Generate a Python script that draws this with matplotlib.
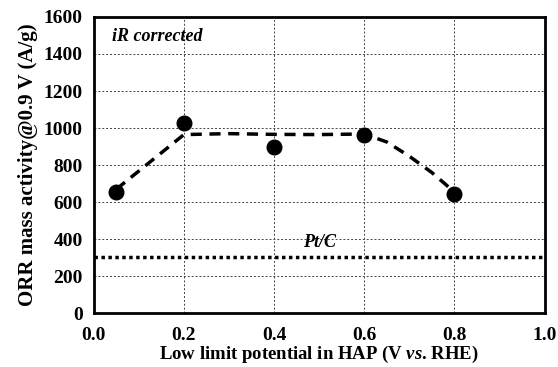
import matplotlib
matplotlib.use("Agg")
import matplotlib.pyplot as plt

# measured data
potential = [0.05, 0.2, 0.4, 0.6, 0.8]
activity = [655, 1025, 897, 965, 645]

# guide curve
fit_x = [0.05, 0.2, 0.3, 0.4, 0.5, 0.6, 0.65, 0.7, 0.75, 0.8]
fit_y = [670, 965, 970, 966, 965, 968, 925, 848, 760, 655]

ptc_level = 305

plt.rcParams['font.family'] = ['Liberation Serif', 'DejaVu Serif']
plt.rcParams['font.weight'] = 'bold'
plt.rcParams['mathtext.fontset'] = 'custom'
plt.rcParams['mathtext.it'] = 'Liberation Serif:italic:bold'
plt.rcParams['mathtext.rm'] = 'Liberation Serif:bold'


def main():
    fig = plt.figure(figsize=(5.58, 3.67), dpi=100)
    ax = fig.add_axes([0.168, 0.146, 0.808, 0.808])

    ax.grid(True, linestyle=(0, (2, 2)), color='#444444', linewidth=0.7)
    ax.set_axisbelow(True)

    ax.plot(fit_x, fit_y, color='black', linestyle=(0, (3.2, 2.2)), linewidth=2.5, zorder=3)
    ax.plot(potential, activity, 'o', color='black', markersize=10.5, zorder=4)
    ax.axhline(ptc_level, color='black', linestyle=(0, (1, 1)), linewidth=2.5, zorder=3)

    ax.text(0.5, 335, 'Pt/C', fontsize=13, fontstyle='italic', fontweight='bold', ha='center', va='bottom')
    ax.text(0.04, 1495, 'iR corrected', fontsize=13, fontstyle='italic', fontweight='bold', ha='left', va='center')

    ax.set_xlim(0, 1.0)
    ax.set_ylim(0, 1600)
    ax.set_xticks([0, 0.2, 0.4, 0.6, 0.8, 1.0])
    ax.set_xticklabels(['0.0', '0.2', '0.4', '0.6', '0.8', '1.0'])
    ax.set_yticks(range(0, 1601, 200))
    ax.tick_params(axis='x', length=0, labelsize=14, pad=10)
    ax.tick_params(axis='y', length=0, labelsize=14, pad=8)
    for lab in ax.get_xticklabels() + ax.get_yticklabels():
        lab.set_fontweight('bold')

    for sp in ax.spines.values():
        sp.set_linewidth(2)
        sp.set_color('black')

    ax.set_xlabel('Low limit potential in HAP (V $\\mathit{vs}$. RHE)', fontsize=13.5, fontweight='bold', labelpad=0)
    ax.set_ylabel('ORR mass activity@0.9 V (A/g)', fontsize=15, fontweight='bold', labelpad=4)

    fig.savefig('out.png', dpi=100)


if __name__ == "__main__":
    main()
